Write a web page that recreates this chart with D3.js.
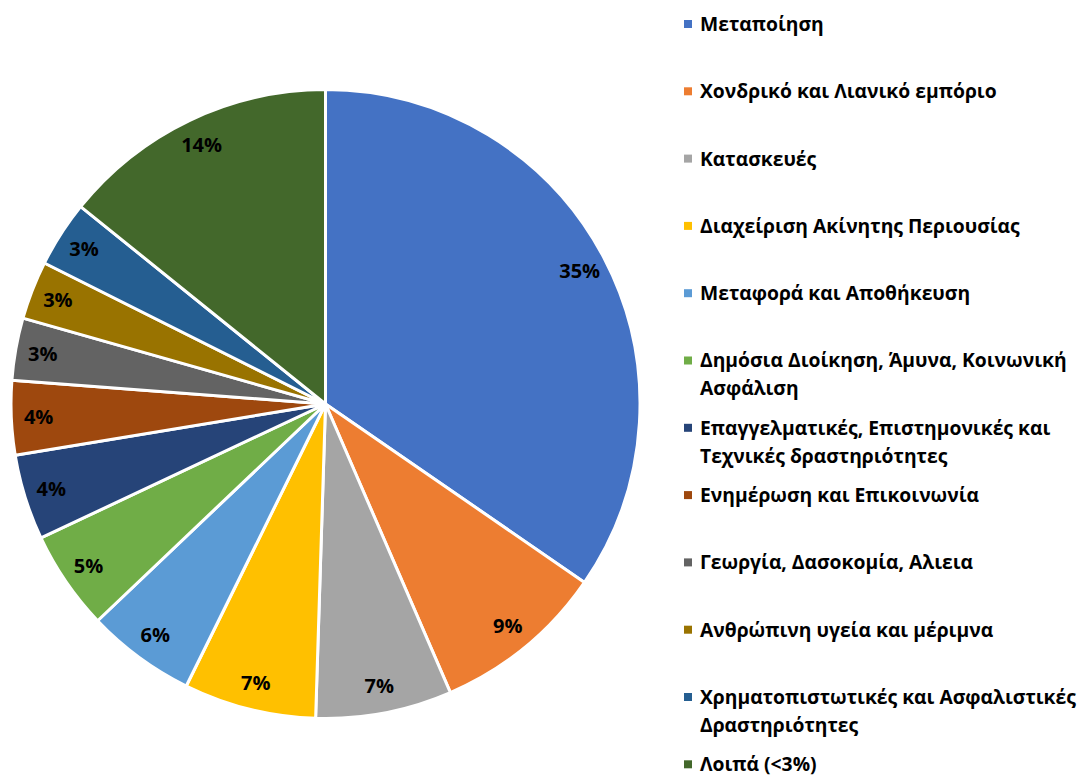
<!DOCTYPE html>
<html>
<head>
<meta charset="utf-8">
<script src="https://cdn.jsdelivr.net/npm/d3@7"></script>
<style>
  body { margin: 0; background: #fff; }
  svg { display: block; font-family: "Open Sans", "Noto Sans", sans-serif; }
</style>
</head>
<body>
<div id="chart"></div>
<script>
const categories = [
  'Μεταποίηση',
  'Χονδρικό και Λιανικό εμπόριο',
  'Κατασκευές',
  'Διαχείριση Ακίνητης Περιουσίας',
  'Μεταφορά και Αποθήκευση',
  'Δημόσια Διοίκηση, Άμυνα, Κοινωνική Ασφάλιση',
  'Επαγγελματικές, Επιστημονικές και Τεχνικές δραστηριότητες',
  'Ενημέρωση και Επικοινωνία',
  'Γεωργία, Δασοκομία, Αλιεια',
  'Ανθρώπινη υγεία και μέριμνα',
  'Χρηματοπιστωτικές και Ασφαλιστικές Δραστηριότητες',
  'Λοιπά (<3%)'
];
const shares = [34.6, 8.9, 7.0, 6.8, 5.6, 5.1, 4.4, 3.8, 3.2, 3.0, 3.4, 14.2];
const colors = ['#4472C4', '#ED7D31', '#A5A5A5', '#FFC000', '#5B9BD5', '#70AD47',
  '#264478', '#9E480E', '#636363', '#997300', '#255E91', '#43682B'];

const width = 1081, height = 778;
const cx = 325.5, cy = 404, radius = 314.5;

const svg = d3.select('#chart').append('svg')
  .attr('width', width)
  .attr('height', height);

const total = d3.sum(shares);
const pie = d3.pie().sort(null).value(d => d);
const arcs = pie(shares);
const arc = d3.arc().innerRadius(0).outerRadius(radius);

const g = svg.append('g').attr('transform', `translate(${cx},${cy})`);

g.selectAll('path.slice')
  .data(arcs)
  .enter().append('path')
  .attr('class', 'slice')
  .attr('d', arc)
  .attr('fill', (d, i) => colors[i])
  .attr('stroke', '#fff')
  .attr('stroke-width', 3)
  .attr('stroke-linejoin', 'round');

// labels sit just inside the outer edge
const labelArc = d3.arc().innerRadius(radius * 0.913).outerRadius(radius * 0.913);
g.selectAll('text.pct')
  .data(arcs)
  .enter().append('text')
  .attr('class', 'pct')
  .attr('transform', d => `translate(${labelArc.centroid(d)})`)
  .attr('text-anchor', 'middle')
  .attr('dy', '0.36em')
  .style('font-size', '20px')
  .style('font-weight', 700)
  .style('fill', '#000')
  .text(d => Math.round(d.value / total * 100) + '%');

// legend
const legendX = 684, textX = 700, firstY = 24, step = 67.3, lineH = 28, maxW = 382;
const legend = svg.append('g');

categories.forEach((name, i) => {
  const y = firstY + i * step;
  legend.append('rect')
    .attr('x', legendX)
    .attr('y', y - 4)
    .attr('width', 8)
    .attr('height', 8)
    .attr('fill', colors[i]);

  const t = legend.append('text')
    .attr('x', textX)
    .attr('y', y)
    .attr('dy', '0.36em')
    .style('font-size', '19.3px')
    .style('font-weight', 700)
    .style('fill', '#000');

  // simple word wrap
  const words = name.split(' ');
  let line = [];
  let tspan = t.append('tspan').attr('x', textX);
  words.forEach(w => {
    line.push(w);
    tspan.text(line.join(' '));
    if (tspan.node().getComputedTextLength() > maxW && line.length > 1) {
      line.pop();
      tspan.text(line.join(' '));
      line = [w];
      tspan = t.append('tspan').attr('x', textX).attr('dy', lineH).text(w);
    }
  });
});
</script>
</body>
</html>
